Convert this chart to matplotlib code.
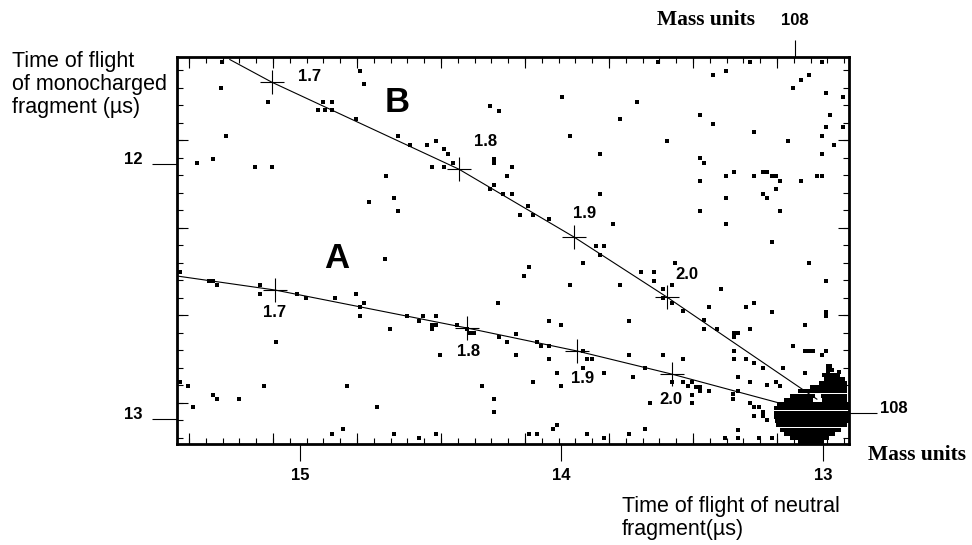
import numpy as np
import matplotlib
matplotlib.use("Agg")
import matplotlib.pyplot as plt
from matplotlib.ticker import MultipleLocator, NullFormatter

plt.rcParams['font.family'] = ['Liberation Sans', 'DejaVu Sans']

# --- data (times of flight in microseconds) ---
x_major = [15, 14, 13]
x_major_labels = ['15', '14', '13']
y_major = [12, 13]
y_major_labels = ['12', '13']
mass_tick_top = 13.107     # 108 mass units on the neutral axis
mass_tick_right = 12.976   # 108 mass units on the charged axis

# kinematic curves: start, calibration crosses 1.7..2.0, end
b_line_x = [15.268, 15.107, 14.392, 13.952, 13.596, 13.023]
b_line_y = [11.590, 11.679, 12.020, 12.286, 12.522, 12.922]
a_line_x = [15.470, 15.095, 14.361, 13.941, 13.577, 13.153]
a_line_y = [12.439, 12.494, 12.643, 12.733, 12.824, 12.941]
cross_labels = ['1.7', '1.8', '1.9', '2.0']

# isolated coincidence events
event_x = [15.298, 15.302, 15.122, 15.283, 15.394, 15.332, 15.172, 15.107, 14.931, 14.912,
           14.904, 14.877, 14.877, 14.770, 14.755, 14.786, 14.273, 14.239, 13.998, 13.711,
           13.776, 14.625, 14.579, 14.514, 14.480, 14.449, 14.434, 14.415, 14.495, 14.449,
           14.258, 14.258, 14.189, 14.208, 14.671, 13.967, 13.853, 13.853, 14.258, 14.273,
           14.224, 14.189, 14.640, 13.631, 13.279, 13.004, 13.420, 13.371, 13.115, 13.084,
           13.053, 12.988, 12.923, 12.973, 12.988, 12.923, 13.004, 12.958, 13.004, 13.470,
           13.420, 13.264, 13.134, 13.596, 13.470, 13.455, 13.371, 13.340, 13.264, 13.229,
           13.214, 13.195, 13.180, 13.164, 13.470, 13.084, 13.023, 13.004, 13.229, 13.214,
           13.180, 13.371, 15.459, 15.348, 15.332, 15.317, 15.153, 15.153, 15.011, 14.977,
           15.092, 15.459, 15.428, 15.409, 15.332, 15.317, 15.233, 15.137, 14.736, 14.625,
           14.159, 14.128, 14.109, 14.048, 13.803, 13.868, 13.837, 13.853, 13.918, 14.124,
           14.143, 13.967, 13.696, 13.646, 13.646, 13.776, 14.675, 14.866, 14.786, 14.770,
           14.755, 14.770, 14.656, 14.591, 14.545, 14.529, 14.480, 14.495, 14.495, 14.480,
           14.399, 14.361, 14.350, 14.334, 14.464, 14.243, 14.239, 14.208, 14.174, 14.174,
           14.094, 14.078, 14.048, 14.048, 14.002, 14.048, 14.017, 14.002, 14.109, 13.918,
           13.902, 13.883, 13.918, 13.837, 13.742, 13.742, 13.726, 13.681, 13.661, 14.820,
           14.705, 14.304, 14.258, 14.258, 14.017, 14.032, 14.877, 14.835, 14.640, 14.545,
           14.480, 14.124, 14.094, 13.902, 13.837, 13.742, 13.681, 13.470, 13.164, 13.371,
           13.195, 13.053, 13.566, 12.988, 13.577, 13.612, 13.612, 13.577, 13.535, 13.390,
           13.436, 13.294, 13.264, 13.195, 12.988, 12.988, 13.455, 13.455, 13.405, 13.279,
           13.069, 13.340, 13.325, 13.340, 13.115, 13.069, 13.053, 13.038, 13.004, 12.988,
           13.340, 13.340, 13.294, 13.264, 13.229, 13.279, 13.325, 13.325, 13.214, 13.180,
           13.164, 13.153, 13.069, 13.612, 13.535, 13.577, 13.535, 13.516, 13.501, 13.485,
           13.470, 13.436, 13.470, 13.501, 13.501, 13.344, 13.344, 13.279, 13.264, 13.245,
           13.229, 13.264, 13.229, 13.214, 13.325, 13.375, 13.325, 13.245, 13.195, 12.973,
           12.939, 12.981]
event_y = [11.600, 11.702, 11.757, 11.890, 11.996, 11.981, 12.012, 12.012, 11.788, 11.757,
           11.788, 11.757, 11.788, 11.635, 11.686, 11.824, 11.773, 11.792, 11.737, 11.757,
           11.824, 11.890, 11.926, 11.926, 11.910, 11.941, 11.961, 11.996, 12.012, 12.012,
           11.981, 11.996, 12.012, 12.047, 12.047, 11.890, 11.961, 12.118, 12.082, 12.098,
           12.118, 12.118, 12.133, 11.600, 11.600, 11.600, 11.651, 11.635, 11.702, 11.671,
           11.651, 11.722, 11.737, 11.808, 11.855, 11.855, 11.890, 11.926, 11.961, 11.808,
           11.843, 11.875, 11.910, 11.910, 11.977, 11.996, 12.047, 12.032, 12.047, 12.032,
           12.032, 12.047, 12.047, 12.067, 12.067, 12.067, 12.047, 12.047, 12.118, 12.133,
           12.098, 12.133, 12.424, 12.459, 12.459, 12.475, 12.475, 12.510, 12.510, 12.526,
           12.698, 12.855, 12.871, 12.953, 12.906, 12.922, 12.922, 12.871, 12.149, 12.184,
           12.200, 12.165, 12.200, 12.216, 12.235, 12.322, 12.322, 12.357, 12.388, 12.404,
           12.439, 12.475, 12.424, 12.424, 12.459, 12.475, 12.373, 12.526, 12.510, 12.561,
           12.545, 12.596, 12.647, 12.596, 12.616, 12.596, 12.596, 12.632, 12.647, 12.632,
           12.632, 12.647, 12.663, 12.663, 12.749, 12.545, 12.679, 12.698, 12.667, 12.749,
           12.698, 12.714, 12.714, 12.616, 12.632, 12.765, 12.820, 12.871, 12.855, 12.733,
           12.765, 12.765, 12.800, 12.820, 12.616, 12.749, 12.835, 12.800, 12.937, 12.871,
           12.953, 12.871, 12.922, 12.973, 13.024, 13.039, 13.059, 13.039, 13.059, 13.075,
           13.059, 13.059, 13.059, 13.059, 13.075, 13.059, 13.039, 12.184, 12.184, 12.235,
           12.306, 12.388, 12.388, 12.459, 12.475, 12.490, 12.526, 12.545, 12.577, 12.490,
           12.561, 12.561, 12.545, 12.581, 12.581, 12.596, 12.612, 12.647, 12.647, 12.647,
           12.632, 12.663, 12.663, 12.679, 12.714, 12.733, 12.733, 12.733, 12.749, 12.733,
           12.733, 12.765, 12.765, 12.781, 12.800, 12.855, 12.835, 12.890, 12.867, 12.855,
           12.871, 12.800, 12.820, 12.749, 12.765, 12.855, 12.855, 12.871, 12.855, 12.875,
           12.875, 12.890, 12.890, 12.906, 12.937, 12.902, 12.922, 12.937, 12.953, 12.953,
           12.973, 12.988, 12.988, 13.004, 13.043, 13.075, 13.075, 13.075, 13.075, 12.800,
           12.816, 12.820]

# dense parent-ion spot: one row of filled cells per y, from x_from to x_to
blob_y = [12.792, 12.808, 12.828, 12.843, 12.859, 12.875, 12.890, 12.910, 12.910, 12.926,
          12.926, 12.941, 12.957, 12.977, 12.992, 13.008, 13.024, 13.043, 13.059, 13.075,
          13.090]
blob_from = [12.988, 12.988, 13.004, 12.995, 13.015, 13.050, 13.095, 13.125, 13.008, 13.150,
             13.004, 13.176, 13.186, 13.188, 13.188, 13.184, 13.178, 13.165, 13.148, 13.125,
             13.095]
blob_to = [12.965, 12.958, 12.935, 12.916, 12.906, 12.906, 12.906, 13.030, 12.906, 13.038,
           12.906, 12.902, 12.902, 12.902, 12.902, 12.902, 12.906, 12.932, 12.955, 12.978,
           12.994]


fig = plt.figure(figsize=(9.72, 5.45), dpi=100)
ax = fig.add_axes([0.1821, 0.1853, 0.6914, 0.7101])

ax.scatter(event_x, event_y, marker='s', s=10, c='black', linewidths=0, zorder=2)
ax.barh(blob_y, np.array(blob_to) - np.array(blob_from), left=blob_from,
        height=0.0178, color='black', linewidth=0, zorder=2)

for lx, ly in [(b_line_x, b_line_y), (a_line_x, a_line_y)]:
    ax.plot(lx, ly, color='black', lw=0.8, zorder=3)
    ax.plot(lx[1:-1], ly[1:-1], '+', color='black', ms=17, mew=0.8, zorder=4)

# labels of the crosses (offsets in points)
b_offsets = [(27, 4), (19, 20), (8, 17), (14, 16)]
a_offsets = [(0, -16), (1, -17), (4, -20), (-1, -18)]
for i, lab in enumerate(cross_labels):
    ax.annotate(lab, (b_line_x[i + 1], b_line_y[i + 1]), xytext=b_offsets[i],
                textcoords='offset points', ha='center', va='center',
                fontsize=12, fontweight='bold')
    ax.annotate(lab, (a_line_x[i + 1], a_line_y[i + 1]), xytext=a_offsets[i],
                textcoords='offset points', ha='center', va='center',
                fontsize=12, fontweight='bold')

ax.text(14.858, 12.369, 'A', fontsize=25, fontweight='bold', ha='center', va='center')
ax.text(14.629, 11.757, 'B', fontsize=25, fontweight='bold', ha='center', va='center')

ax.set_xlim(15.470, 12.900)
ax.set_ylim(13.098, 11.580)
for s in ax.spines.values():
    s.set_linewidth(2)

# outward labelled ticks
ax.set_xticks(x_major, labels=x_major_labels, fontsize=12, fontweight='bold')
ax.set_yticks(y_major, labels=y_major_labels, fontsize=12, fontweight='bold', va='baseline')
ax.tick_params(axis='x', which='major', direction='out', length=12, width=0.8, pad=5,
               bottom=True, top=False)
ax.tick_params(axis='y', which='major', direction='out', length=18, width=0.8, pad=7,
               left=True, right=False)

# short inward ticks on all four sides
ax.xaxis.set_minor_locator(MultipleLocator(0.06424, 15.103))
ax.yaxis.set_minor_locator(MultipleLocator(0.06862, 11.906))
ax.tick_params(which='minor', direction='in', length=4.5, width=0.8,
               top=True, bottom=True, left=True, right=True)

# longer inward ticks every fifth step
for loc in ['top', 'bottom', 'left', 'right']:
    if loc in ('top', 'bottom'):
        sec = ax.secondary_xaxis(loc)
        axis = sec.xaxis
        axis.set_major_locator(MultipleLocator(0.3212, 15.103))
    else:
        sec = ax.secondary_yaxis(loc)
        axis = sec.yaxis
        axis.set_major_locator(MultipleLocator(0.3431, 11.906))
    axis.set_major_formatter(NullFormatter())
    sec.tick_params(which='major', direction='in', length=8, width=0.8)
    for s in sec.spines.values():
        s.set_visible(False)

# mass-unit ticks
top = ax.secondary_xaxis('top')
top.set_ticks([mass_tick_top], labels=['108'], fontsize=12, fontweight='bold')
top.tick_params(direction='out', length=12, width=0.8, pad=9)
for s in top.spines.values():
    s.set_visible(False)

right = ax.secondary_yaxis('right')
right.set_ticks([mass_tick_right], labels=['108'], fontsize=12, fontweight='bold', va='baseline')
right.tick_params(direction='out', length=20, width=0.8, pad=2)
for s in right.spines.values():
    s.set_visible(False)

# axis titles
fig.text(0.012, 0.907, 'Time of flight\nof monocharged\nfragment (µs)',
         fontsize=15.5, ha='left', va='top', linespacing=1.14)
fig.text(0.640, 0.090, 'Time of flight of neutral\nfragment(µs)',
         fontsize=15.5, ha='left', va='top', linespacing=1.1)
fig.text(0.7263, 0.963, 'Mass units', family='Liberation Serif', fontweight='bold',
         fontsize=15.5, ha='center', va='center')
fig.text(0.893, 0.165, 'Mass units', family='Liberation Serif', fontweight='bold',
         fontsize=15.5, ha='left', va='center')

fig.savefig('out.png', dpi=100)
